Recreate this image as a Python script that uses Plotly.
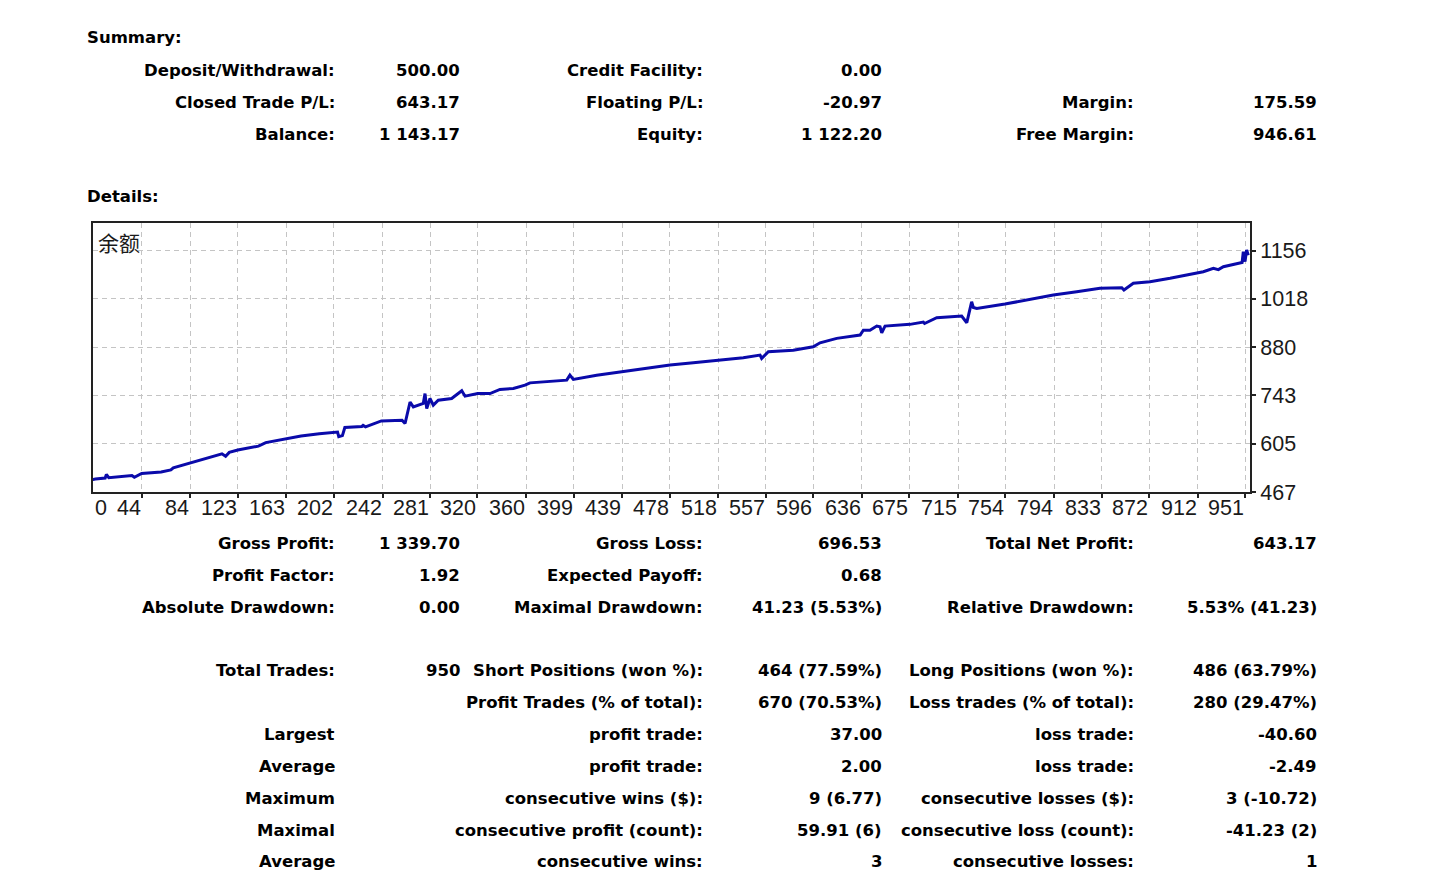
import plotly.graph_objects as go

# ---------------- data ----------------
trade_index = [0, 6, 14, 15, 17, 30, 36, 38, 44, 60, 68, 70, 84, 100, 110, 113, 116, 123, 140, 146,
               163, 175, 190, 202, 205, 206, 209, 211, 225, 226, 228, 241, 258, 260.5, 262.6, 264.6,
               267.3, 271.4, 275.5, 276.9, 278.3, 281, 283.7, 287.8, 298.8, 307.1, 309.8, 320.2,
               322.1, 330.3, 338.5, 349.5, 359.1, 363.2, 393.4, 396, 398.8, 418, 438.6, 459.1,
               478.3, 497.4, 518, 538.5, 552.3, 553.6, 559.1, 579.6, 596, 601.6, 615.3, 623.5,
               634.5, 637.2, 642.6, 648.2, 650.9, 652.3, 655, 675.5, 686.5, 687.5, 697.5, 718,
               720.8, 722.2, 724, 726.2, 727.6, 730.4, 753.6, 771.5, 793.3, 812.6, 831.7, 849.6,
               851.4, 859.1, 872.8, 889.3, 905.7, 916.6, 924.9, 929, 933.1, 946.8, 948.5, 949.5,
               950.9, 952.2, 953.6]
balance = [500, 504, 507, 517, 508, 511, 514, 509, 520, 524, 530, 536, 550, 566, 576, 569, 580, 587, 598, 608,
           620, 627, 633, 637, 638, 625, 628, 651, 654, 657, 653, 670, 672, 662.6, 691, 724,
           710, 716, 720, 748, 705.5, 734, 715, 729, 734, 756, 740.6, 748,
           748.3, 748, 759.8, 762.6, 772, 778.6, 786.3, 800.6, 788.4, 800.6, 810, 819.8,
           829.3, 835.8, 843.5, 850, 857.8, 848.4, 867.3, 872, 881.5, 893, 905.6, 910,
           915, 929, 929, 940.7, 938.7, 921.6, 940.7, 945.6, 952, 948, 964.5, 969.3,
           958, 950.2, 977, 1010, 994, 991.3, 1003.6, 1015, 1029.4, 1038.8, 1048.5, 1050.3,
           1043.7, 1062.8, 1067.4, 1077, 1089.4, 1096, 1105.7, 1102, 1110.3, 1120, 1122, 1153,
           1124.6, 1158, 1143.17]

x_tick_values = [44, 84, 123, 163, 202, 242, 281, 320, 360, 399, 439, 478, 518, 557, 596, 636,
                 675, 715, 754, 794, 833, 872, 912, 951]
x_tick_labels = [str(v) for v in x_tick_values]
y_tick_values = [467, 604.8, 742.6, 880.4, 1018.2, 1156]
y_tick_labels = ["467", "605", "743", "880", "1018", "1156"]
x_range = [4, 955]
y_range = [467, 1235]
chart_title = "余额"

summary_labels_1 = ["Deposit/Withdrawal:", "Closed Trade P/L:", "Balance:"]
summary_values_1 = ["500.00", "643.17", "1 143.17"]
summary_labels_2 = ["Credit Facility:", "Floating P/L:", "Equity:"]
summary_values_2 = ["0.00", "-20.97", "1 122.20"]
summary_labels_3 = ["", "Margin:", "Free Margin:"]
summary_values_3 = ["", "175.59", "946.61"]

detail_labels_1 = ["Gross Profit:", "Profit Factor:", "Absolute Drawdown:", "Total Trades:", "",
                   "Largest", "Average", "Maximum", "Maximal", "Average"]
detail_values_1 = ["1 339.70", "1.92", "0.00", "950", "", "", "", "", "", ""]
detail_labels_2 = ["Gross Loss:", "Expected Payoff:", "Maximal Drawdown:", "Short Positions (won %):",
                   "Profit Trades (% of total):", "profit trade:", "profit trade:",
                   "consecutive wins ($):", "consecutive profit (count):", "consecutive wins:"]
detail_values_2 = ["696.53", "0.68", "41.23 (5.53%)", "464 (77.59%)", "670 (70.53%)", "37.00",
                   "2.00", "9 (6.77)", "59.91 (6)", "3"]
detail_labels_3 = ["Total Net Profit:", "", "Relative Drawdown:", "Long Positions (won %):",
                   "Loss trades (% of total):", "loss trade:", "loss trade:",
                   "consecutive losses ($):", "consecutive loss (count):", "consecutive losses:"]
detail_values_3 = ["643.17", "", "5.53% (41.23)", "486 (63.79%)", "280 (29.47%)", "-40.60",
                   "-2.49", "3 (-10.72)", "-41.23 (2)", "1"]

# ---------------- layout geometry (pixels) ----------------
W, H = 1433, 875
PL, PR, PT, PB = 93, 1250, 223, 492
summary_rows_y = [70, 102, 134]
detail_rows_y = [543, 575, 607, 670, 702, 734, 766, 798, 830, 862]
col_right_x = [334, 459, 702, 881, 1133, 1316]


def px_x(px):
    return (px - PL) / (PR - PL)


def px_y(py):
    return (PB - py) / (PB - PT)


TEXT_FONT = dict(family="DejaVu Sans", size=16.5, color="#000000")

fig = go.Figure()
fig.add_trace(go.Scatter(
    x=trade_index, y=balance, mode="lines",
    line=dict(color="#0A0AAA", width=3),
    hoverinfo="skip", showlegend=False,
))

annotations = []


def add_text(text, px, py, anchor="right", font=TEXT_FONT):
    if not text:
        return
    annotations.append(dict(
        text="<b>%s</b>" % text, x=px_x(px), y=px_y(py), xref="paper", yref="paper",
        xanchor=anchor, yanchor="middle", showarrow=False, font=font,
        xshift=3 if anchor == "right" else -2,
    ))


add_text("Summary:", 87, 38, anchor="left")
add_text("Details:", 87, 197, anchor="left")

for i, py in enumerate(summary_rows_y):
    cols = [summary_labels_1[i], summary_values_1[i], summary_labels_2[i], summary_values_2[i],
            summary_labels_3[i], summary_values_3[i]]
    for c, t in enumerate(cols):
        add_text(t, col_right_x[c], py)

for i, py in enumerate(detail_rows_y):
    cols = [detail_labels_1[i], detail_values_1[i], detail_labels_2[i], detail_values_2[i],
            detail_labels_3[i], detail_values_3[i]]
    for c, t in enumerate(cols):
        add_text(t, col_right_x[c], py)

TICK_FONT = dict(family="Liberation Sans", size=21.5, color="#1a1a1a")

# x tick labels, right-aligned at their tick (MetaTrader style)
annotations.append(dict(text="0", x=x_range[0], y=px_y(508), xref="x", yref="paper",
                        xanchor="left", yanchor="middle", xshift=0, showarrow=False, font=TICK_FONT))
for v, lab in zip(x_tick_values, x_tick_labels):
    annotations.append(dict(text=lab, x=v, y=px_y(508), xref="x", yref="paper",
                            xanchor="right", yanchor="middle", xshift=1, showarrow=False,
                            font=TICK_FONT))

annotations.append(dict(text=chart_title, x=px_x(96), y=px_y(242), xref="paper", yref="paper",
                        xanchor="left", yanchor="middle", showarrow=False,
                        font=dict(family="Noto Sans CJK SC", size=21, color="#1a1a1a")))

fig.update_layout(
    width=W, height=H,
    margin=dict(l=PL, r=W - PR, t=PT, b=H - PB, pad=0),
    paper_bgcolor="white", plot_bgcolor="white",
    annotations=annotations,
    xaxis=dict(
        range=x_range, tickvals=x_tick_values, showticklabels=False,
        ticks="outside", ticklen=4, tickcolor="#222", tickwidth=1.5,
        showgrid=True, gridcolor="#c4c4c4", griddash="5px,4px", gridwidth=1,
        showline=True, linecolor="#222", linewidth=2, mirror=True, zeroline=False,
    ),
    yaxis=dict(
        range=y_range, tickvals=y_tick_values, ticktext=y_tick_labels, side="right",
        ticks="outside", ticklen=4, tickcolor="#222", tickwidth=1.5, tickfont=TICK_FONT,
        showgrid=True, gridcolor="#c4c4c4", griddash="5px,4px", gridwidth=1,
        showline=True, linecolor="#222", linewidth=2, mirror=True, zeroline=False,
    ),
)

fig.write_html(
    "out.html",
    config={"displayModeBar": False},
    post_script="document.body.style.margin='0';document.body.style.overflow='hidden';",
)
